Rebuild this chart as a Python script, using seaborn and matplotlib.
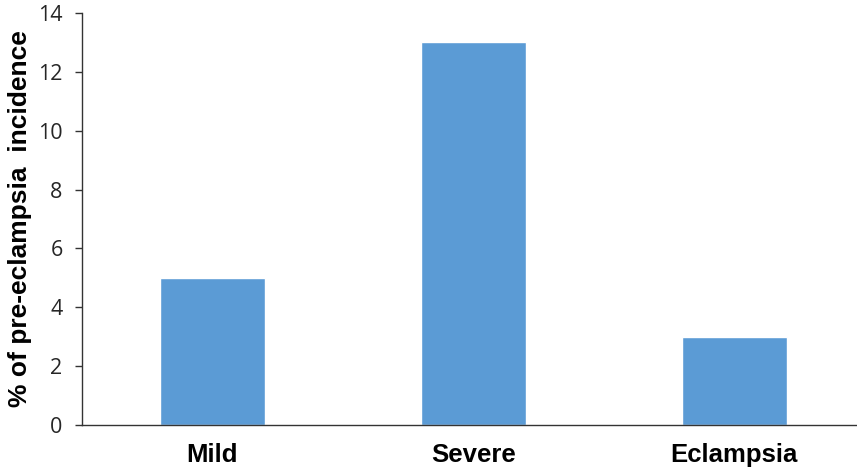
import matplotlib
matplotlib.use("Agg")
import matplotlib.pyplot as plt
import seaborn as sns
import pandas as pd

categories = ["Mild", "Severe", "Eclampsia"]
values = [5, 13, 3]
y_ticks = [0, 2, 4, 6, 8, 10, 12, 14]
y_label = "% of pre-eclampsia  incidence"

sns.set_style("white")
plt.rcParams["font.family"] = ["Liberation Sans", "DejaVu Sans"]

df = pd.DataFrame({"category": categories, "value": values})

fig = plt.figure(figsize=(8.57, 4.73), dpi=100)
ax = fig.add_axes([82 / 857, 48 / 473, 775 / 857, 412 / 473])

sns.barplot(data=df, x="category", y="value", color="#5B9BD5",
            saturation=1, width=0.4, ax=ax, errorbar=None)

ax.set_xlim(-0.5, 2.47)
ax.set_ylim(0, 14)
ax.set_yticks(y_ticks)
ax.set_yticklabels([str(t) for t in y_ticks], family=["Open Sans", "DejaVu Sans"],
                   fontsize=15.5, color="#262626")
ax.set_xticks(range(len(categories)))
ax.set_xticklabels(categories, fontsize=18.5, fontweight="bold", color="black")
ax.tick_params(axis="y", direction="out", length=5, width=1, color="#333333", pad=9, left=True)
ax.tick_params(axis="x", length=0, pad=13)

for s in ["top", "right"]:
    ax.spines[s].set_visible(False)
for s in ["left", "bottom"]:
    ax.spines[s].set_color("#333333")
    ax.spines[s].set_linewidth(1)

ax.set_xlabel("")
ax.set_ylabel(y_label, fontsize=19, fontweight="bold", color="black")
ax.yaxis.set_label_coords(-0.064, 0.5)

fig.savefig("out.png", dpi=100)
